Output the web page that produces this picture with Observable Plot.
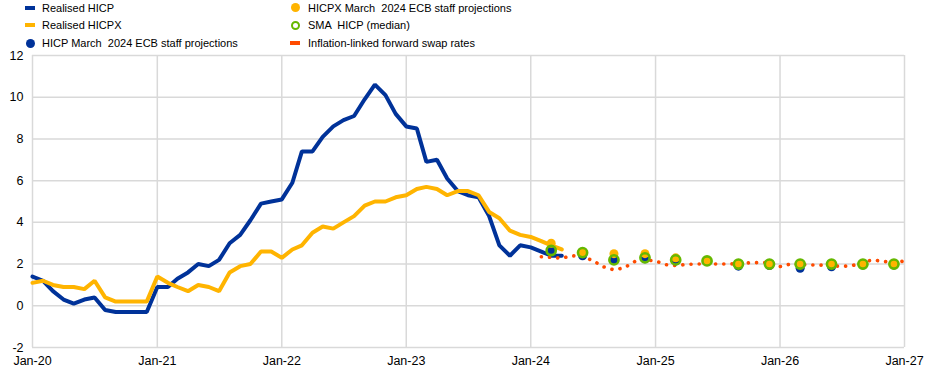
<!DOCTYPE html>
<html><head><meta charset="utf-8">
<script src="https://cdn.jsdelivr.net/npm/d3@7"></script>
<script src="https://cdn.jsdelivr.net/npm/@observablehq/plot@0.6"></script>
<style>
body{margin:0;background:#fff;font-family:"Liberation Sans",Arial,sans-serif;}
#wrap{position:relative;width:945px;height:372px;overflow:hidden;}
#legend{position:relative;height:46px;}
.txt{position:absolute;font-size:11px;color:#000;white-space:pre;line-height:14px;}
.sw{position:absolute;box-sizing:border-box;}
</style></head><body>
<div id="wrap"><div id="legend"></div><div id="chart"></div></div>
<script>
// ---- data ----
const seriesNames = ["Realised HICP","Realised HICPX","HICP March  2024 ECB staff projections","HICPX March  2024 ECB staff projections","SMA  HICP (median)","Inflation-linked forward swap rates"];
const seriesColors = ["#003299","#FFB400","#003299","#FFB400","#65B800","#FF4B00"];

const realisedStart = "2020-01-01"; // monthly, Jan-20 .. Apr-24
const hicp = [1.4,1.2,0.7,0.3,0.1,0.3,0.4,-0.2,-0.3,-0.3,-0.3,-0.3,
              0.9,0.9,1.3,1.6,2.0,1.9,2.2,3.0,3.4,4.1,4.9,5.0,
              5.1,5.9,7.4,7.4,8.1,8.6,8.9,9.1,9.9,10.6,10.1,9.2,
              8.6,8.5,6.9,7.0,6.1,5.5,5.3,5.2,4.3,2.9,2.4,2.9,
              2.8,2.6,2.4,2.4];
const hicpx = [1.1,1.2,1.0,0.9,0.9,0.8,1.2,0.4,0.2,0.2,0.2,0.2,
               1.4,1.1,0.9,0.7,1.0,0.9,0.7,1.6,1.9,2.0,2.6,2.6,
               2.3,2.7,2.9,3.5,3.8,3.7,4.0,4.3,4.8,5.0,5.0,5.2,
               5.3,5.6,5.7,5.6,5.3,5.5,5.5,5.3,4.5,4.2,3.6,3.4,
               3.3,3.1,2.9,2.7];

const projDates = ["2024-03-01","2024-06-01","2024-09-01","2024-12-01",
                   "2025-03-01","2025-06-01","2025-09-01","2025-12-01",
                   "2026-03-01","2026-06-01","2026-09-01","2026-12-01"];
const hicpProj  = [2.65,2.4,2.2,2.25,2.15,2.15,1.9,1.93,1.8,1.87,1.95,1.95];
const hicpxProj = [3.0,2.55,2.5,2.5,2.3,2.15,2.0,2.0,2.0,2.0,2.0,2.0];
const smaHicp   = [2.65,2.55,2.2,2.3,2.2,2.15,2.0,2.0,2.0,2.0,2.0,2.0];

const swapStart = "2024-02-01"; // monthly, Feb-24 .. Jan-27
const swap = [2.35,2.32,2.28,2.4,2.36,2.17,1.87,1.72,1.82,2.12,2.2,
              2.15,1.97,1.93,1.98,2.0,2.0,2.0,2.0,2.02,2.06,2.07,2.08,
              1.88,2.0,1.98,1.96,1.95,1.92,1.89,1.92,2.1,2.2,2.12,2.1,
              2.14];

const yTicks = [-2,0,2,4,6,8,10,12];
const xTickLabels = ["Jan-20","Jan-21","Jan-22","Jan-23","Jan-24","Jan-25","Jan-26","Jan-27"];
const xTickDates = ["2020-01-01","2021-01-01","2022-01-01","2023-01-01","2024-01-01","2025-01-01","2026-01-01","2027-01-01"].map(s=>new Date(s));

// ---- build tables ----
const monthly = (start, vals) => vals.map((v,i)=>({date:d3.utcMonth.offset(new Date(start), i), value:v}));
const hicpData = monthly(realisedStart, hicp);
const hicpxData = monthly(realisedStart, hicpx);
const swapData = monthly(swapStart, swap);
const proj = (vals) => vals.map((v,i)=>({date:new Date(projDates[i]), value:v}));

const chart = Plot.plot({
  width:945, height:326,
  marginLeft:32, marginRight:41, marginTop:9, marginBottom:25,
  style:{fontFamily:'"Liberation Sans", Arial, sans-serif', fontSize:"12.5px", color:"#000", background:"#fff", overflow:"visible"},
  x:{type:"utc", domain:[xTickDates[0], xTickDates[xTickDates.length-1]]},
  y:{domain:[-2,12]},
  marks:[
    Plot.gridY(yTicks,{stroke:"#d9d9d9", strokeOpacity:1, strokeWidth:1.5}),
    Plot.gridX(xTickDates,{stroke:"#d9d9d9", strokeOpacity:1, strokeWidth:1.5}),
    Plot.axisY(yTicks,{tickSize:0, tickPadding:9, label:null, tickFormat:d=>String(d)}),
    Plot.axisX(xTickDates,{tickSize:0, tickPadding:9, label:null,
      tickFormat:d=>xTickLabels[xTickDates.findIndex(t=>+t===+d)]}),
    Plot.line(hicpData,{x:"date", y:"value", stroke:seriesColors[0], strokeWidth:4, strokeLinejoin:"miter"}),
    Plot.line(hicpxData,{x:"date", y:"value", stroke:seriesColors[1], strokeWidth:4, strokeLinejoin:"miter"}),
    Plot.line(swapData,{x:"date", y:"value", stroke:seriesColors[5], strokeWidth:3.6, strokeDasharray:"0.1 8.1", strokeLinecap:"round"}),
    Plot.dot(proj(hicpProj),{x:"date", y:"value", fill:seriesColors[2], r:4.5}),
    Plot.dot(proj(hicpxProj),{x:"date", y:"value", fill:seriesColors[3], r:4.5}),
    Plot.dot(proj(smaHicp),{x:"date", y:"value", stroke:seriesColors[4], fill:"none", strokeWidth:2.6, r:4.6})
  ]
});
document.getElementById("chart").appendChild(chart);

// ---- legend ----
const legend = document.getElementById("legend");
const kinds = ["bar","bar","dot","dot","ring","bar"];
const cols = [[30,42],[30,42],[30,42],[295,308],[295,308],[295,308]];
const rows = [7.5,25,43,7.5,25,43];
seriesNames.forEach((name,i)=>{
  const sw = document.createElement("div");
  sw.className = "sw";
  const cx = cols[i][0], cy = rows[i];
  if (kinds[i]==="bar") {
    Object.assign(sw.style,{left:(cx-5)+"px", top:(cy-2)+"px", width:"10px", height:"4px", background:seriesColors[i]});
  } else if (kinds[i]==="dot") {
    Object.assign(sw.style,{left:(cx-4.5)+"px", top:(cy-4.5)+"px", width:"9px", height:"9px", borderRadius:"50%", background:seriesColors[i]});
  } else {
    Object.assign(sw.style,{left:(cx-4.5)+"px", top:(cy-4.5)+"px", width:"9px", height:"9px", borderRadius:"50%", border:"2.5px solid "+seriesColors[i]});
  }
  legend.appendChild(sw);
  const t = document.createElement("div");
  t.className = "txt";
  t.textContent = name;
  Object.assign(t.style,{left:cols[i][1]+"px", top:(cy-7)+"px"});
  legend.appendChild(t);
});
</script>
</body></html>
